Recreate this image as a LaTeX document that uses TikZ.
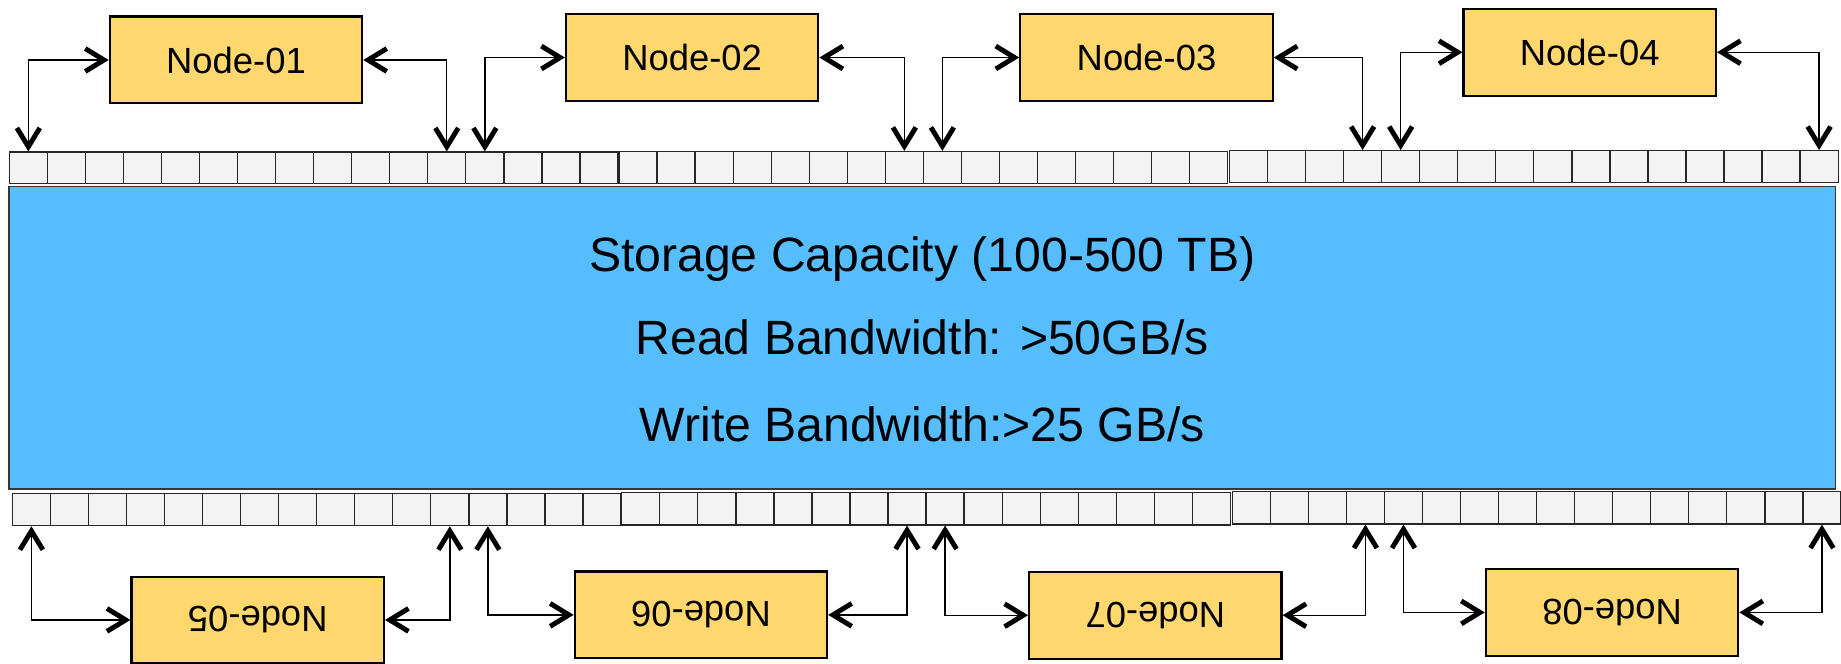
\documentclass[tikz,border=0pt]{standalone}
\usepackage{fontspec}
\setmainfont{Liberation Sans}
\usepackage{graphicx}
\usetikzlibrary{arrows.meta}

\definecolor{nodeyellow}{RGB}{254,215,110}
\definecolor{storeblue}{RGB}{86,190,255}
\definecolor{cellgray}{RGB}{243,243,243}
\definecolor{edgegray}{RGB}{55,55,55}

\tikzset{
  nodebox/.style={draw=black, line width=1.8pt, fill=nodeyellow,
    minimum width=215pt, minimum height=74pt, inner sep=0pt,
    font=\fontsize{31}{31}\selectfont},
  cellbox/.style={draw=black!85, line width=1.1pt, fill=cellgray,
    minimum width=32.4pt, minimum height=27pt, inner sep=0pt, anchor=north west},
  storebox/.style={draw=edgegray, line width=1.2pt, fill=storeblue,
    minimum width=1555.6pt, minimum height=257.5pt, inner sep=0pt},
  info/.style={font=\fontsize{41}{41}\selectfont, anchor=base, inner sep=0pt},
  barbtip/.tip={Straight Barb[length=16pt,width=19.5pt,line width=0pt 3.8 1]},
  link/.style={line width=1.1pt, barbtip-barbtip},
}

\begin{document}
\begin{tikzpicture}[x=1pt,y=-1pt]
\path[use as bounding box] (0,0) rectangle (1568,565);

% shared storage pool
\node[storebox] (store) at (785.3,287.7) {};
\node[info] (cap)   at (785.5,231) {Storage Capacity (100-500 TB)};
\node[info] (read)  at (785.5,302) {Read Bandwidth: >50GB/s};
\node[info] (write) at (785.5,376) {Write Bandwidth:>25 GB/s};

% upper row of ports, three blocks of sixteen
\foreach \g/\x/\y in {0/7.4/129, 1/526.7/128.5, 2/1046.6/127.8} {
  \foreach \i in {1,...,16} {
    \pgfmathtruncatemacro{\n}{16*\g+\i}
    \node[cellbox] (T\n) at ({\x+(\i-1)*32.4},\y) {};
  }
}
% lower row of ports
\foreach \g/\x/\y in {0/10/419.6, 1/529/419, 2/1049/418.2} {
  \foreach \i in {1,...,16} {
    \pgfmathtruncatemacro{\n}{16*\g+\i}
    \node[cellbox, minimum height=27.5pt] (B\n) at ({\x+(\i-1)*32.4},\y) {};
  }
}

% compute nodes
\node[nodebox] (N1) at (201,51.1)  {Node-01};
\node[nodebox] (N2) at (589.5,49)  {Node-02};
\node[nodebox] (N3) at (976.5,49)  {Node-03};
\node[nodebox] (N4) at (1354,44.5) {Node-04};
\node[nodebox, minimum height=73pt] (N5) at (219.5,528)  {\rotatebox{180}{Node-05}};
\node[nodebox] (N6) at (597,523.7)  {\rotatebox{180}{Node-06}};
\node[nodebox] (N7) at (984,524)    {\rotatebox{180}{Node-07}};
\node[nodebox] (N8) at (1373,521.6) {\rotatebox{180}{Node-08}};

% links from the upper nodes
\draw[link] (T1.north)  |- (N1.west);
\draw[link] (N1.east)   -| (T12.north);
\draw[link] (T13.north) |- (N2.west);
\draw[link] (N2.east)   -| (T24.north);
\draw[link] (T25.north) |- (N3.west);
\draw[link] (N3.east)   -| (T36.north);
\draw[link] (T37.north) |- (N4.west);
\draw[link] (N4.east)   -| (T48.north);

% links from the lower nodes
\draw[link] (B1.south)  |- (N5.west);
\draw[link] (N5.east)   -| (B12.south);
\draw[link] (B13.south) |- (N6.west);
\draw[link] (N6.east)   -| (B24.south);
\draw[link] (B25.south) |- (N7.west);
\draw[link] (N7.east)   -| (B36.south);
\draw[link] (B37.south) |- (N8.west);
\draw[link] (N8.east)   -| (B48.south);
\end{tikzpicture}
\end{document}
